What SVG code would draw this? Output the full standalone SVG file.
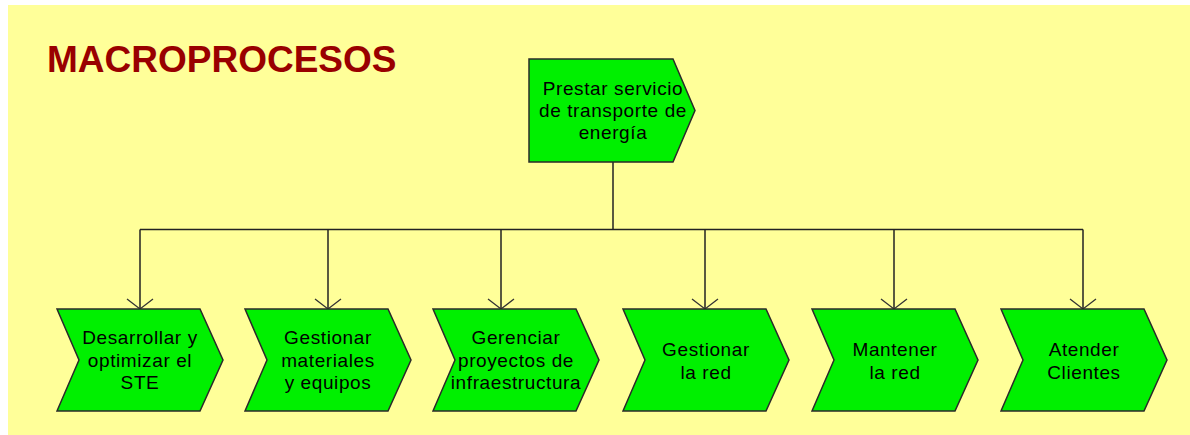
<svg xmlns="http://www.w3.org/2000/svg" width="1190" height="435" viewBox="0 0 1190 435">
<style>
.node{fill:#00f000;stroke:#2a2a2a;stroke-width:1.5}
.lbl{font-family:"Liberation Sans",Arial,sans-serif;font-size:19px;letter-spacing:0.6px;fill:#000;text-anchor:middle}
.conn{fill:none;stroke:#222;stroke-width:1.5}
.title{font-family:"Liberation Sans",Arial,sans-serif;font-size:37px;font-weight:bold;fill:#990000}
</style>
<defs>
<marker id="v" markerUnits="userSpaceOnUse" markerWidth="30" markerHeight="30" viewBox="-15 -15 30 30" refX="0" refY="0" orient="auto" overflow="visible">
<path d="M-10,-13 L0,0 L-10,13" fill="none" stroke="#333" stroke-width="1.3"/>
</marker>
</defs>
<rect x="0" y="0" width="1190" height="435" fill="#ffffff"/>
<rect x="8" y="5" width="1182" height="430" fill="#ffff99"/>
<text class="title" x="47" y="72">MACROPROCESOS</text>

<g id="connectors">
<path class="conn" d="M613,162 V229.5"/>
<path class="conn" d="M140,229.5 H1083"/>
<path class="conn" d="M140,229.5 V309" marker-end="url(#v)"/>
<path class="conn" d="M328,229.5 V309" marker-end="url(#v)"/>
<path class="conn" d="M501,229.5 V309" marker-end="url(#v)"/>
<path class="conn" d="M705,229.5 V309" marker-end="url(#v)"/>
<path class="conn" d="M894,229.5 V309" marker-end="url(#v)"/>
<path class="conn" d="M1083,229.5 V309" marker-end="url(#v)"/>
</g>

<g id="n0">
<path class="node" d="M529,59 H673 L695,110.5 L673,162 H529 Z"/>
<text class="lbl" x="613" y="95">Prestar servicio</text>
<text class="lbl" x="613" y="117">de transporte de</text>
<text class="lbl" x="613" y="139">energía</text>
</g>

<g id="n1">
<path class="node" d="M57,309 H200 L223,360 L200,411 H57 L79,360 Z"/>
<text class="lbl" x="140" y="344">Desarrollar y</text>
<text class="lbl" x="140" y="366.5">optimizar el</text>
<text class="lbl" x="140" y="389">STE</text>
</g>

<g id="n2">
<path class="node" d="M245,309 H388 L411,360 L388,411 H245 L267,360 Z"/>
<text class="lbl" x="328" y="344">Gestionar</text>
<text class="lbl" x="328" y="366.5">materiales</text>
<text class="lbl" x="328" y="389">y equipos</text>
</g>

<g id="n3">
<path class="node" d="M433,309 H576 L599,360 L576,411 H433 L455,360 Z"/>
<text class="lbl" x="516" y="344">Gerenciar</text>
<text class="lbl" x="516" y="366.5">proyectos de</text>
<text class="lbl" x="516" y="389">infraestructura</text>
</g>

<g id="n4">
<path class="node" d="M623,309 H766 L789,360 L766,411 H623 L645,360 Z"/>
<text class="lbl" x="706" y="356">Gestionar</text>
<text class="lbl" x="706" y="379">la red</text>
</g>

<g id="n5">
<path class="node" d="M812,309 H955 L978,360 L955,411 H812 L834,360 Z"/>
<text class="lbl" x="895" y="356">Mantener</text>
<text class="lbl" x="895" y="379">la red</text>
</g>

<g id="n6">
<path class="node" d="M1001,309 H1144 L1167,360 L1144,411 H1001 L1023,360 Z"/>
<text class="lbl" x="1084" y="356">Atender</text>
<text class="lbl" x="1084" y="379">Clientes</text>
</g>
</svg>
